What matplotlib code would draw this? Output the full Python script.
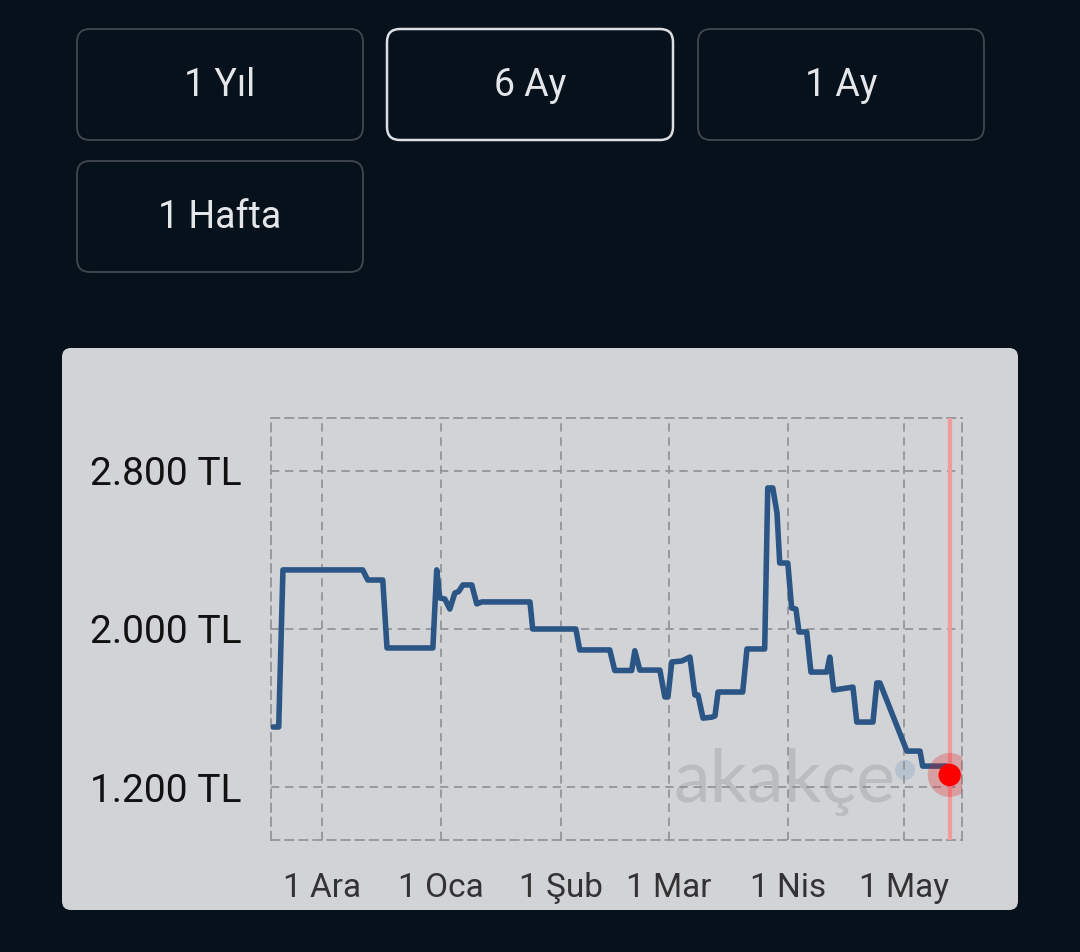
import numpy as np
import matplotlib
matplotlib.use('Agg')
import matplotlib.pyplot as plt
from matplotlib.patches import FancyBboxPatch, Circle

plt.rcParams['font.family'] = ['Roboto', 'DejaVu Sans']

# days counted from 1 Dec, price in TL
gun = [-12.7, -11.2, -10.1, 10.6, 11.9, 15.8, 16.9, 28.8, 29.8, 30.6, 31.9, 33.2,
       34.5, 35.5, 36.6, 38.9, 40.2, 41.5, 54.0, 54.7, 65.9, 66.9, 74.7, 76.0,
       80.4, 81.2, 82.5, 87.7, 89.0, 89.8, 90.8, 93.4, 95.5, 96.8, 97.6, 98.9,
       101.2, 102.0, 102.8, 109.2, 110.3, 114.9, 115.7, 117.0, 118.1, 118.8,
       120.9, 121.9, 123.0, 123.8, 125.8, 126.9, 131.0, 131.8, 132.8, 137.8,
       138.8, 143.0, 144.0, 144.8, 151.8, 155.2, 155.9, 162.4]
fiyat = [1504, 1504, 2299, 2299, 2248, 2248, 1904, 1904, 2299, 2157, 2152, 2101,
         2182, 2190, 2223, 2223, 2127, 2137, 2137, 2000, 2000, 1894, 1894, 1790,
         1790, 1890, 1792, 1792, 1656, 1656, 1833, 1838, 1858, 1666, 1666, 1549,
         1554, 1560, 1681, 1681, 1899, 1899, 2714, 2714, 2587, 2334, 2334, 2106,
         2101, 1985, 1985, 1782, 1782, 1858, 1691, 1706, 1529, 1529, 1727, 1727,
         1382, 1382, 1306, 1306]
son_gun = 162.9
son_fiyat = 1261

ay_gun = [0, 31, 62, 90, 121, 151]
ay_etiket = ['1 Ara', '1 Oca', '1 Şub', '1 Mar', '1 Nis', '1 May']
y_ticks = [1200, 2000, 2800]
y_etiket = ['1.200 TL', '2.000 TL', '2.800 TL']

butonlar = ['1 Yıl', '6 Ay', '1 Ay', '1 Hafta']
secili = '6 Ay'

W, H = 1080, 952
fig = plt.figure(figsize=(W / 100, H / 100), dpi=100)
fig.patch.set_facecolor('#07111c')

# background layer in pixel coordinates
bg = fig.add_axes([0, 0, 1, 1])
bg.set_xlim(0, W)
bg.set_ylim(H, 0)
bg.axis('off')

pos = [(77, 29), (387, 29), (698, 29), (77, 161)]
for name, (x0, y0) in zip(butonlar, pos):
    sel = name == secili
    bg.add_patch(FancyBboxPatch((x0, y0), 286, 111,
                                boxstyle='round,pad=0,rounding_size=13',
                                fc='#07111c', ec='#dcdee1' if sel else '#43474e',
                                lw=1.8 if sel else 1.3))
    bg.text(x0 + 143, y0 + 56, name, color='#e4e6e9', fontsize=27,
            ha='center', va='center')

# card
bg.add_patch(FancyBboxPatch((62, 348), 956, 562,
                            boxstyle='round,pad=0,rounding_size=9',
                            fc='#d1d3d6', ec='none'))

# watermark
bg.text(785, 782, 'akakçe', color='#babcc0', fontsize=53, family='Lato',
        ha='center', va='center')
bg.add_patch(Circle((905, 770), 10, fc='#b7c3cf', ec='none'))

# chart
ax = fig.add_axes([271 / W, 1 - 840 / H, (962 - 271) / W, (840 - 418) / H])
ax.set_facecolor('none')
dash = (0, (4.6, 3.2))
grid_kw = dict(color='#929498', lw=1.3, ls=dash)
ax.plot(gun, fiyat, color='#2b5585', lw=4, solid_joinstyle='round',
        solid_capstyle='round', zorder=3)
ax.axvline(son_gun, color='#f29a9b', lw=3, zorder=4)
ax.scatter([son_gun], [son_fiyat], s=1000, color='#e8191e', alpha=0.28,
           edgecolors='none', zorder=5)
ax.scatter([son_gun], [son_fiyat], s=260, color='#ff0000', edgecolors='none',
           zorder=6)

ax.set_xlim(-13.2, 166.1)
ax.set_ylim(932, 3068)
ax.set_xticks(ay_gun)
ax.set_xticklabels(ay_etiket)
ax.set_yticks(y_ticks)
ax.set_yticklabels(y_etiket)
ax.grid(True, **grid_kw)
ax.tick_params(axis='both', length=0)
ax.tick_params(axis='y', labelsize=28, labelcolor='#111111', pad=21)
ax.tick_params(axis='x', labelsize=24, labelcolor='#333333', pad=23)
for sp in ax.spines.values():
    sp.set_color('#929498')
    sp.set_linewidth(1.3)
    sp.set_linestyle(dash)

fig.savefig('out.png', dpi=100, facecolor=fig.get_facecolor())
